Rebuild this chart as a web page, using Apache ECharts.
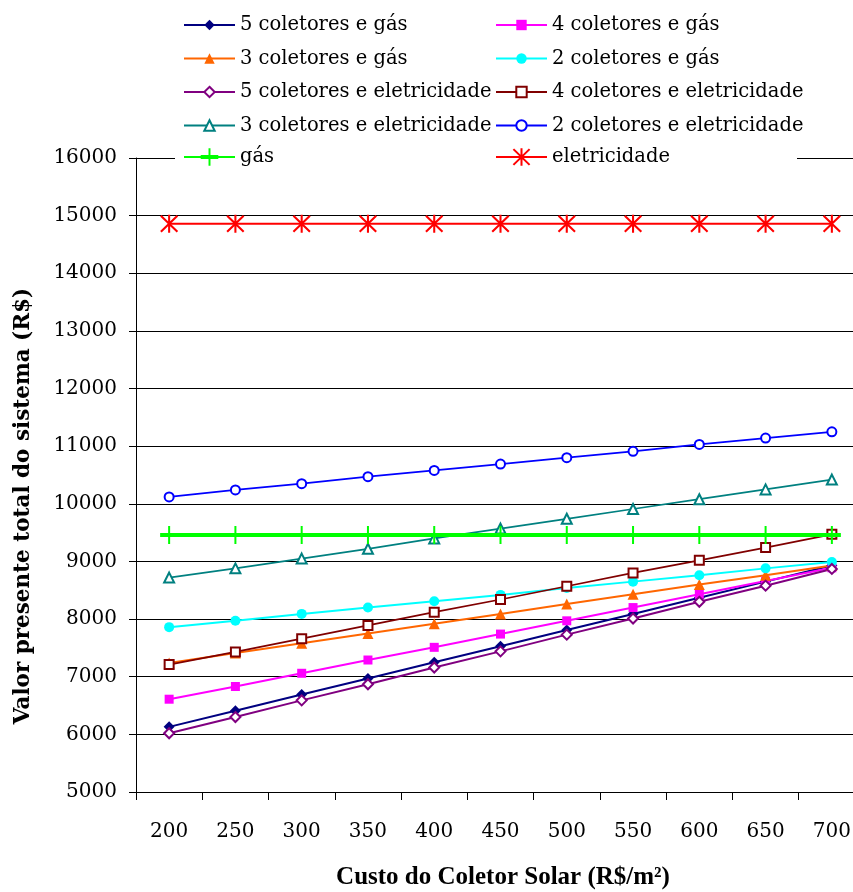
<!DOCTYPE html>
<html><head><meta charset="utf-8">
<script src="https://cdn.jsdelivr.net/npm/echarts@6/dist/echarts.min.js"></script>
<style>html,body{margin:0;padding:0;background:#fff}#c{width:853px;height:892px}</style>
</head><body><div id="c"></div>
<script>
// ---- data ----
const categories = ['200','250','300','350','400','450','500','550','600','650','700'];
const yMin = 5000, yMax = 16000, yStep = 1000;
const col5gas = [6130, 6410, 6690, 6970, 7250, 7530, 7810, 8090, 8370, 8650, 8930];
const col4gas = [6610, 6830, 7060, 7290, 7510, 7740, 7970, 8200, 8430, 8660, 8890];
const col3gas = [7240, 7410, 7580, 7750, 7920, 8090, 8260, 8430, 8600, 8760, 8930];
const col2gas = [7860, 7970, 8090, 8200, 8310, 8420, 8540, 8650, 8760, 8880, 8990];
const col5ele = [6020, 6300, 6590, 6870, 7160, 7440, 7730, 8010, 8300, 8580, 8870];
const col4ele = [7210, 7430, 7660, 7890, 8120, 8340, 8570, 8800, 9020, 9240, 9470];
const col3ele = [8720, 8880, 9050, 9220, 9400, 9570, 9740, 9910, 10080, 10250, 10420];
const col2ele = [10120, 10240, 10350, 10470, 10580, 10690, 10800, 10910, 11030, 11140, 11250];
const gasOnly = [9460, 9460, 9460, 9460, 9460, 9460, 9460, 9460, 9460, 9460, 9460];
const eleOnly = [14860, 14860, 14860, 14860, 14860, 14860, 14860, 14860, 14860, 14860, 14860];
const names = ['5 coletores e gás','4 coletores e gás','3 coletores e gás','2 coletores e gás',
  '5 coletores e eletricidade','4 coletores e eletricidade','3 coletores e eletricidade','2 coletores e eletricidade',
  'gás','eletricidade'];

// ---- symbol shapes ----
function bar(x1,y1,x2,y2,w){
  const dx=x2-x1, dy=y2-y1, L=Math.hypot(dx,dy);
  const nx=-dy/L*w/2, ny=dx/L*w/2;
  const f=v=>v.toFixed(3);
  return 'M'+f(x1+nx)+','+f(y1+ny)+'L'+f(x2+nx)+','+f(y2+ny)+'L'+f(x2-nx)+','+f(y2-ny)+'L'+f(x1-nx)+','+f(y1-ny)+'Z';
}
const plusPath = 'path://' + bar(0,-9,0,9,2) + bar(-9,0,9,0,4);
const starPath = 'path://' + bar(0,-9,0,9,2) + bar(-8,-8,8,8,2) + bar(-8,8,8,-8,2);

const serifFont = 'DejaVu Serif';
function mk(name, data, color, symbol, size, lw, empty){
  return {
    name, type:'line', data, symbol, symbolSize:size, showAllSymbol:true,
    lineStyle:{color, width:lw},
    itemStyle:{color, borderColor:color, borderWidth: empty?1.5:0},
    silent:true, emphasis:{disabled:true}, animation:false
  };
}
const series = [
  mk(names[0], col5gas, '#000080', 'diamond', 11, 2, false),
  mk(names[1], col4gas, '#FF00FF', 'rect', 9, 2, false),
  mk(names[2], col3gas, '#FF6600', 'triangle', 11, 2, false),
  mk(names[3], col2gas, '#00FFFF', 'circle', 10, 2, false),
  mk(names[4], col5ele, '#800080', 'emptyDiamond', 10, 2, true),
  mk(names[5], col4ele, '#800000', 'emptyRect', 9, 1.75, true),
  mk(names[6], col3ele, '#008080', 'emptyTriangle', 10, 1.75, true),
  mk(names[7], col2ele, '#0000FF', 'emptyCircle', 9, 1.75, true),
  mk(names[8], gasOnly, '#00FF00', plusPath, [18,18], 4, false),
  mk(names[9], eleOnly, '#FF0000', starPath, [18,18], 2, false)
];

const legTxt = {fontFamily: serifFont, fontSize: 19.5, color:'#000'};
function leg(data, left, top, ih, gap){
  return {data, orient:'vertical', left, top, itemWidth:51, itemHeight:ih, itemGap:gap,
    padding:0, textStyle:legTxt, selectedMode:false, z:5};
}

const chart = echarts.init(document.getElementById('c'), null, {renderer:'canvas'});
chart.setOption({
  animation:false,
  backgroundColor:'#fff',
  grid:{left:136, right:-12, top:158, bottom:100, containLabel:false, outerBoundsMode:'none'},
  legend:[
    leg([names[0],names[2],names[4],names[6]], 183, 15, 13, 13.5),
    leg([names[1],names[3],names[5],names[7]], 495, 15, 13, 13.5),
    leg([names[8]], 183, 147, 22, 10),
    leg([names[9]], 495, 147, 22, 10)
  ],
  xAxis:{
    type:'category', data:categories, boundaryGap:true,
    axisLine:{lineStyle:{color:'#000', width:1}},
    axisTick:{show:true, inside:false, length:8, lineStyle:{color:'#000'}},
    axisLabel:{fontFamily:serifFont, fontSize:20, color:'#000', margin:30, interval:0},
    splitLine:{show:false}
  },
  yAxis:{
    type:'value', min:yMin, max:yMax, interval:yStep,
    axisLine:{show:true, lineStyle:{color:'#000', width:1}},
    axisTick:{show:true, inside:false, length:7, lineStyle:{color:'#000'}},
    axisLabel:{fontFamily:serifFont, fontSize:20, color:'#000', margin:19, formatter:v=>String(v)},
    splitLine:{show:true, lineStyle:{color:'#000', width:1}}
  },
  graphic:[
    {type:'rect', z:3, silent:true, shape:{x:175, y:142, width:622, height:32}, style:{fill:'#fff'}},
    {type:'text', x:23, y:506, rotation:Math.PI/2, silent:true,
      style:{text:'Valor presente total do sistema (R$)', font:'bold 21.5px "DejaVu Serif"', fill:'#000',
        textAlign:'center', textVerticalAlign:'middle'}},
    {type:'text', x:503, y:878, silent:true,
      style:{text:'Custo do Coletor Solar (R$/m²)', font:'bold 25px "Liberation Serif"', fill:'#000',
        textAlign:'center', textVerticalAlign:'middle'}}
  ],
  series
});
</script></body></html>
